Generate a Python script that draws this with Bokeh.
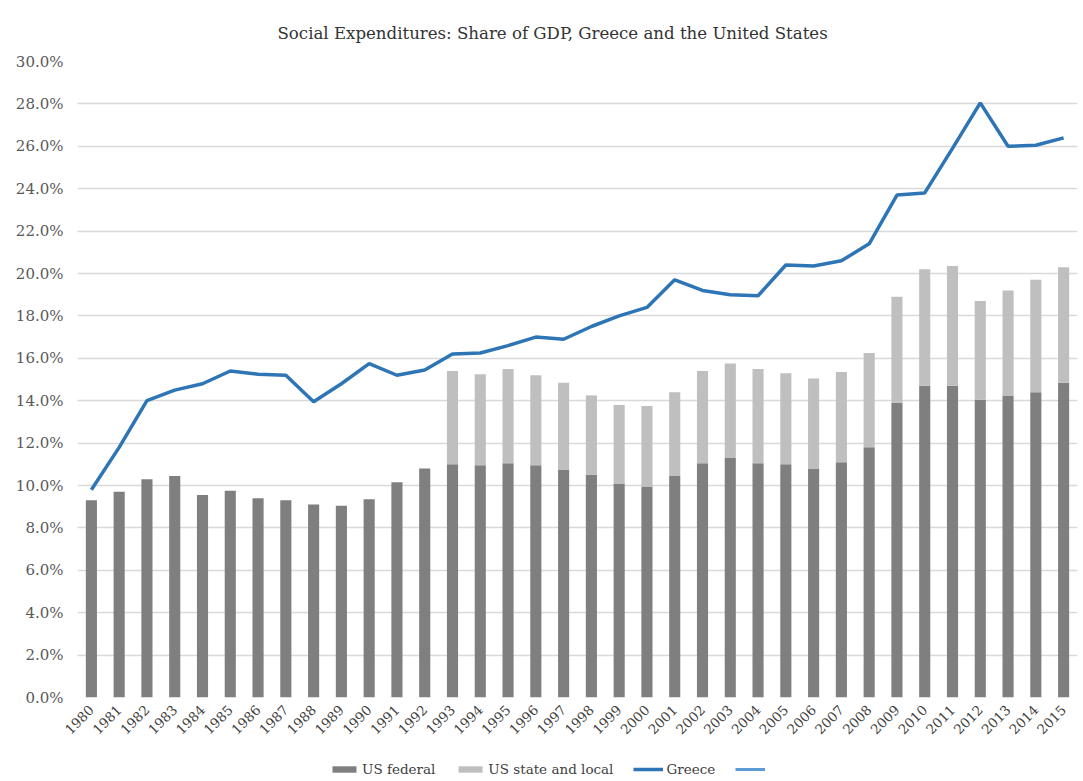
from bokeh.plotting import figure
from bokeh.layouts import column
from bokeh.models import FactorRange, Range1d, FixedTicker, PrintfTickFormatter, Legend, LegendItem
from bokeh.embed import file_html
from bokeh.resources import INLINE
from math import pi

years = [str(y) for y in range(1980, 2016)]
us_federal = [9.3, 9.7, 10.3, 10.45, 9.55, 9.75, 9.4, 9.3, 9.1, 9.05, 9.35, 10.15,
              10.8, 11.0, 10.95, 11.05, 10.95, 10.75, 10.5, 10.1, 9.95, 10.45,
              11.05, 11.3, 11.05, 11.0, 10.8, 11.1, 11.8, 13.9, 14.7, 14.7,
              14.05, 14.25, 14.4, 14.85]
us_total = [9.3, 9.7, 10.3, 10.45, 9.55, 9.75, 9.4, 9.3, 9.1, 9.05, 9.35, 10.15,
            10.8, 15.4, 15.25, 15.5, 15.2, 14.85, 14.25, 13.8, 13.75, 14.4,
            15.4, 15.75, 15.5, 15.3, 15.05, 15.35, 16.25, 18.9, 20.2, 20.35,
            18.7, 19.2, 19.7, 20.3]
us_state_local = [round(t - f, 2) for t, f in zip(us_total, us_federal)]
greece = [9.8, 11.8, 14.0, 14.5, 14.8, 15.4, 15.25, 15.2, 13.95, 14.8, 15.75, 15.2,
          15.45, 16.2, 16.25, 16.6, 17.0, 16.9, 17.5, 18.0, 18.4, 19.7,
          19.2, 19.0, 18.95, 20.4, 20.35, 20.6, 21.4, 23.7, 23.8, 25.9,
          28.05, 26.0, 26.05, 26.4]
y_ticks = [0, 2, 4, 6, 8, 10, 12, 14, 16, 18, 20, 22, 24, 26, 28, 30]
legend_labels = ["US federal", "US state and local", "Greece", "\u00a0"]

FONT = "DejaVu Serif"
C_FED, C_SL, C_GR, C_X = "#7f7f7f", "#bfbfbf", "#2e75b6", "#5b9bd5"

p = figure(width=1083, height=747, x_range=FactorRange(*years),
           y_range=Range1d(0, 30), output_backend="svg", toolbar_location=None,
           title="Social Expenditures: Share of GDP, Greece and the United States",
           min_border_left=77, min_border_right=6, min_border_top=61, min_border_bottom=50)
p.x_range.range_padding = 0.0
p.x_range.factor_padding = 0.0

src = dict(years=years, us_federal=us_federal, us_state_local=us_state_local)
bars = p.vbar_stack(["us_federal", "us_state_local"], x="years", width=0.4, source=src,
                    color=[C_FED, C_SL], line_color=None)
gl = p.line(years, greece, line_color=C_GR, line_width=3.5)

p.title.align = "left"
p.title.offset = 200
p.title.text_font = FONT
p.title.text_font_style = "normal"
p.title.text_font_size = "16.6px"
p.title.text_color = "#333333"
p.title.standoff = 37

p.yaxis.ticker = FixedTicker(ticks=y_ticks)
p.yaxis.formatter = PrintfTickFormatter(format="%.1f%%")
for ax in (p.xaxis, p.yaxis):
    ax.axis_line_color = None
    ax.major_tick_line_color = None
    ax.minor_tick_line_color = None
    ax.major_label_text_font = FONT
p.xaxis.major_label_text_color = "#404040"
p.yaxis.major_label_text_color = "#595959"
p.xaxis.major_label_text_font_size = "13.5px"
p.yaxis.major_label_text_font_size = "15px"
p.xaxis.major_label_orientation = pi / 4
p.xaxis.major_label_standoff = 4
p.yaxis.major_label_standoff = 8

p.xgrid.grid_line_color = None
p.ygrid.grid_line_color = "#d9d9d9"
p.ygrid.grid_line_width = 1.5
p.outline_line_color = None
p.border_fill_color = "white"

# legend strip below the chart
q = figure(width=1083, height=34, x_range=Range1d(0, 1), y_range=Range1d(0, 1),
           output_backend="svg", toolbar_location=None,
           min_border_left=0, min_border_right=0, min_border_top=0, min_border_bottom=0)
q.axis.visible = False
q.grid.visible = False
q.outline_line_color = None
nan = float("nan")
r1 = q.vbar(x=[nan], top=[nan], width=0.1, color=C_FED, line_color=None)
r2 = q.vbar(x=[nan], top=[nan], width=0.1, color=C_SL, line_color=None)
r3 = q.line(x=[nan], y=[nan], line_color=C_GR, line_width=3.5)
r4 = q.line(x=[nan], y=[nan], line_color=C_X, line_width=3)

legend = Legend(items=[LegendItem(label=lab, renderers=[r])
                       for lab, r in zip(legend_labels, [r1, r2, r3, r4])],
                orientation="horizontal", location=(252, 4))
legend.label_text_font = FONT
legend.label_text_font_size = "13.5px"
legend.label_text_color = "#404040"
legend.glyph_width = 30
legend.glyph_height = 8
legend.spacing = 20
legend.label_standoff = 3
legend.border_line_color = None
legend.background_fill_alpha = 0
legend.padding = 2
legend.margin = 0
q.add_layout(legend, "center")

open("out.html", "w").write(file_html(column(p, q, spacing=0), INLINE))
